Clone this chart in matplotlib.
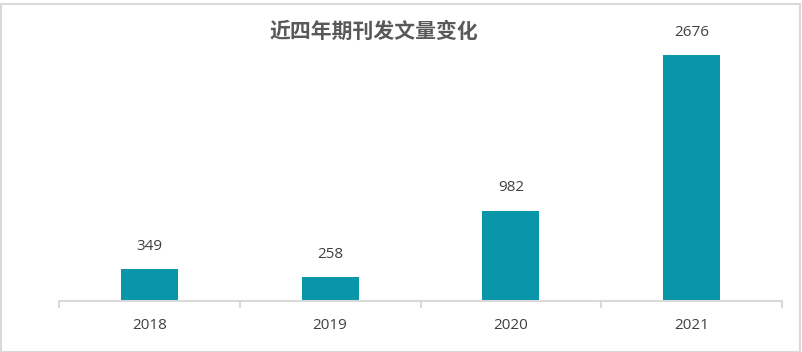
import matplotlib.pyplot as plt
from matplotlib.patches import Rectangle

plt.rcParams['font.family'] = ['Noto Sans CJK SC', 'DejaVu Sans']

# data
years = ['2018', '2019', '2020', '2021']
counts = [349, 258, 982, 2676]
title = '近四年期刊发文量变化'

bar_color = '#0A96AA'
axis_color = '#D9D9D9'
text_color = '#404040'

W, H = 802, 352
fig = plt.figure(figsize=(W / 100, H / 100), dpi=100)

# axes area in pixels: baseline at y=301, x from 59 to 782
ymax = 3000
px_per_unit = (301 - 55) / 2676
ax_h = ymax * px_per_unit
ax = fig.add_axes([59 / W, (H - 301) / H, (782 - 59) / W, ax_h / H])

x = range(len(years))
ax.bar(x, counts, width=0.315, color=bar_color, zorder=2)
ax.set_xlim(-0.5, len(years) - 0.5)
ax.set_ylim(0, ymax)

for xi, v in zip(x, counts):
    ax.annotate(str(v), (xi, v), xytext=(0, 11), textcoords='offset points',
                ha='center', va='bottom', fontsize=11, color=text_color,
                family=['Open Sans', 'DejaVu Sans'])

for s in ['top', 'right', 'left']:
    ax.spines[s].set_visible(False)
ax.spines['bottom'].set_color(axis_color)
ax.spines['bottom'].set_linewidth(1.5)
ax.set_yticks([])

# category boundary ticks
ax.set_xticks([i - 0.5 for i in range(len(years) + 1)], minor=False)
ax.set_xticklabels([])
ax.tick_params(axis='x', which='major', length=5, width=1.5, color=axis_color)
ax.set_xticks(list(x), minor=True)
ax.set_xticklabels(years, minor=True, fontsize=11, color=text_color,
                   family=['Open Sans', 'DejaVu Sans'])
ax.tick_params(axis='x', which='minor', length=0, pad=12)

fig.text(374 / W, 1 - 31 / H, title, ha='center', va='center', fontsize=15,
         fontweight='bold', color='#595959')

# figure border
fig.patches.append(Rectangle((0.5 / W, 0.5 / H), (W - 3) / W, (H - 4) / H,
                             transform=fig.transFigure, fill=False,
                             edgecolor='#D9D9D9', linewidth=1.5))

fig.savefig('out.png', dpi=100)
